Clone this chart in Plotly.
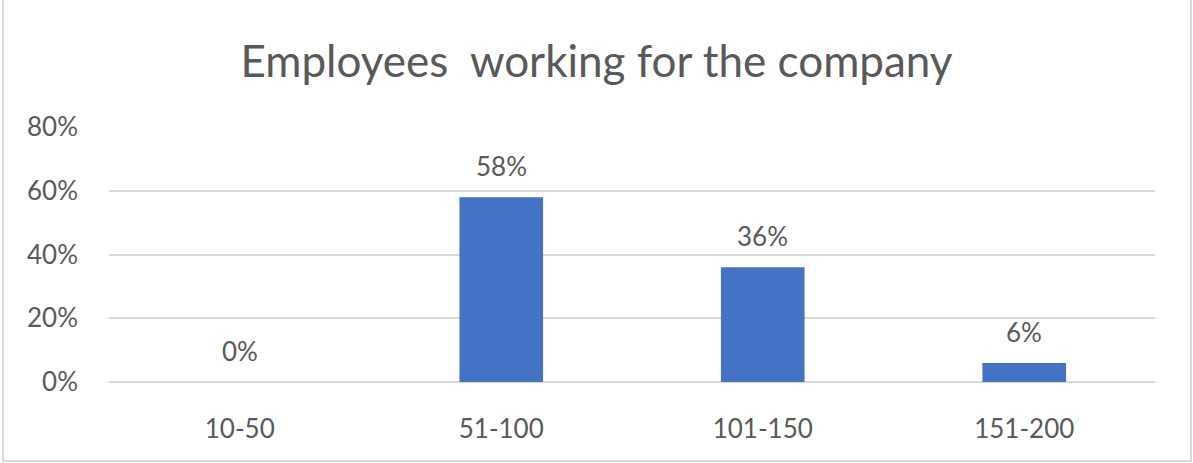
import plotly.graph_objects as go

# Share of companies by number of employees
categories = ["10-50", "51-100", "101-150", "151-200"]
shares = [0, 58, 36, 6]
y_ticks = [0, 20, 40, 60, 80]

BAR_COLOR = "#4472C4"
TEXT_COLOR = "#595959"
GRID_COLOR = "#D9D9D9"
FONT = "Lato"

fig = go.Figure(
    go.Bar(
        x=categories,
        y=shares,
        marker=dict(color=BAR_COLOR, line=dict(width=0)),
        width=0.32,
        hoverinfo="skip",
    )
)

# value labels above each bar
for cat, val in zip(categories, shares):
    fig.add_annotation(
        x=cat, y=val, text=f"{val}%", showarrow=False,
        yanchor="bottom", yshift=13,
        font=dict(family=FONT, size=26, color=TEXT_COLOR),
    )

W, H = 1193, 463
L, R, T, B = 109, 38, 127, 81
pw, ph = W - L - R, H - T - B

def px(x):
    return (x - L) / pw

def py(y):
    return (H - B - y) / ph

# outer chart frame
fig.add_shape(
    type="rect", xref="paper", yref="paper",
    x0=px(3), x1=px(1191), y0=py(461), y1=py(-5),
    line=dict(color=GRID_COLOR, width=2), fillcolor="rgba(0,0,0,0)", layer="below",
)

fig.update_layout(
    width=W, height=H,
    margin=dict(l=L, r=R, t=T, b=B),
    paper_bgcolor="white", plot_bgcolor="white",
    showlegend=False,
    title=dict(
        text="Employees  working for the company",
        x=0.5, xref="container", xanchor="center",
        y=1 - 62 / H, yanchor="middle",
        font=dict(family=FONT, size=44, color=TEXT_COLOR),
    ),
    font=dict(family=FONT, color=TEXT_COLOR),
)

fig.update_xaxes(
    showgrid=False, showline=False, ticks="",
    tickfont=dict(family=FONT, size=26, color=TEXT_COLOR),
    ticklabelstandoff=29,
)
fig.update_yaxes(
    range=[0, 80], tickvals=y_ticks, ticktext=[f"{v}%" for v in y_ticks],
    showgrid=True, gridcolor=GRID_COLOR, gridwidth=2,
    zeroline=True, zerolinecolor=GRID_COLOR, zerolinewidth=2,
    showline=False, ticks="",
    tickfont=dict(family=FONT, size=26, color=TEXT_COLOR),
    ticklabelstandoff=30,
)

fig.write_html("out.html")
